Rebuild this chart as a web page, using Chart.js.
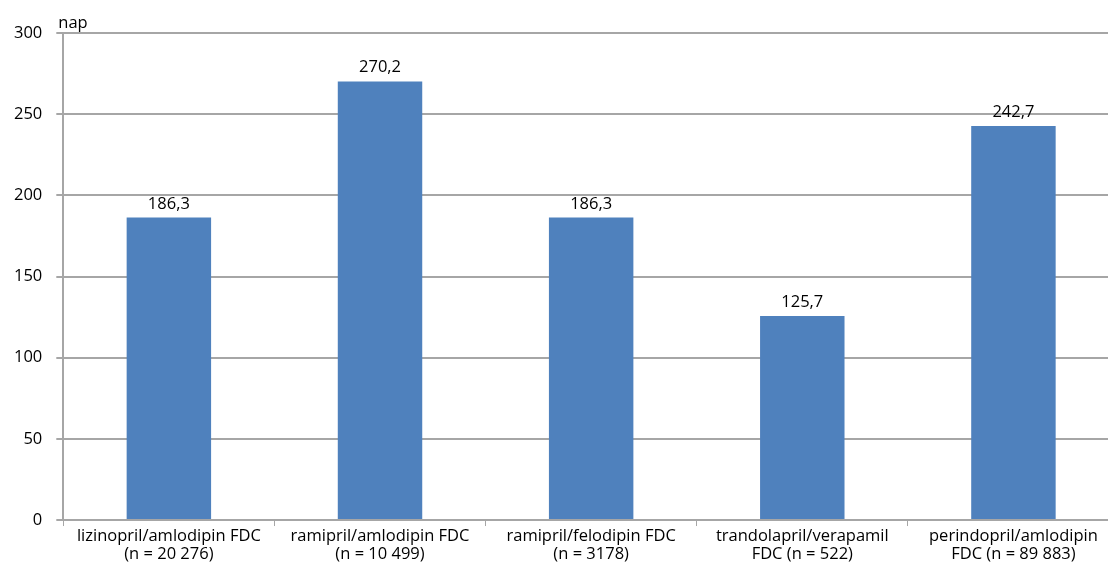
<!DOCTYPE html>
<html>
<head>
<meta charset="utf-8">
<script src="https://cdn.jsdelivr.net/npm/chart.js@4.4.1/dist/chart.umd.min.js"></script>
<style>
  html, body { margin: 0; padding: 0; background: #fff; overflow: hidden; }
  #wrap { width: 1125px; height: 565px; position: relative; }
</style>
</head>
<body>
<div id="wrap"><canvas id="c"></canvas></div>
<script>
const categories = [
  ['lizinopril/amlodipin FDC', '(n = 20 276)'],
  ['ramipril/amlodipin FDC', '(n = 10 499)'],
  ['ramipril/felodipin FDC', '(n = 3178)'],
  ['trandolapril/verapamil', 'FDC (n = 522)'],
  ['perindopril/amlodipin', 'FDC (n = 89 883)']
];
const days = [186.3, 270.2, 186.3, 125.7, 242.7];
const yTicks = [0, 50, 100, 150, 200, 250, 300];
const unitLabel = 'nap';

const FONT = "'Open Sans', 'DejaVu Sans', sans-serif";
const FONT_SIZE = 16.5;
const fmt = v => v.toFixed(1).replace('.', ',');

const valueLabels = {
  id: 'valueLabels',
  afterDatasetsDraw(chart) {
    const ctx = chart.ctx;
    ctx.save();
    ctx.font = FONT_SIZE + 'px ' + FONT;
    ctx.fillStyle = '#000';
    ctx.textAlign = 'center';
    ctx.textBaseline = 'alphabetic';
    chart.getDatasetMeta(0).data.forEach((bar, i) => {
      ctx.fillText(fmt(days[i]), bar.x, bar.y - 9);
    });
    // unit caption above the value axis
    const a = chart.chartArea;
    ctx.textAlign = 'left';
    ctx.fillText(unitLabel, a.left - 5, a.top - 5);
    ctx.restore();
  }
};

new Chart(document.getElementById('c'), {
  type: 'bar',
  data: {
    labels: categories,
    datasets: [{
      data: days,
      backgroundColor: '#4F81BD',
      borderWidth: 0,
      categoryPercentage: 1.0,
      barPercentage: 0.4
    }]
  },
  options: {
    responsive: true,
    maintainAspectRatio: false,
    animation: false,
    layout: { padding: { top: 33, right: 6, left: 0, bottom: 0 } },
    plugins: { legend: { display: false }, tooltip: { enabled: false } },
    scales: {
      x: {
        grid: { display: true, drawOnChartArea: false, color: '#a6a6a6', tickLength: 6, offset: true },
        border: { color: '#a6a6a6', width: 2 },
        ticks: {
          color: '#000',
          font: { family: FONT, size: FONT_SIZE, lineHeight: 1.12 },
          maxRotation: 0, autoSkip: false, padding: 1
        }
      },
      y: {
        min: 0, max: 300,
        afterBuildTicks: axis => { axis.ticks = yTicks.map(v => ({ value: v })); },
        grid: { color: '#a6a6a6', lineWidth: 2, tickLength: 7 },
        border: { color: '#a6a6a6', width: 2 },
        ticks: {
          color: '#000',
          font: { family: FONT, size: FONT_SIZE },
          padding: 14
        }
      }
    }
  },
  plugins: [valueLabels]
});
</script>
</body>
</html>
